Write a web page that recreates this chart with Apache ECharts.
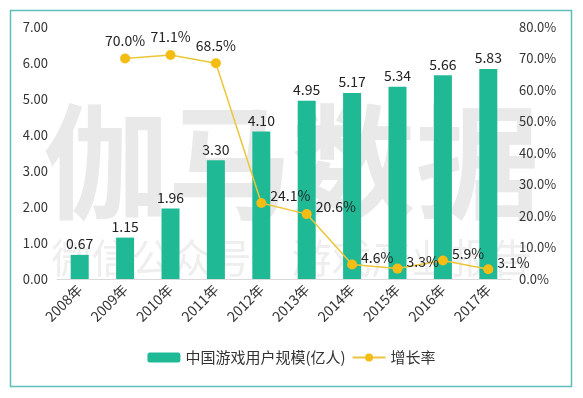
<!DOCTYPE html>
<html>
<head>
<meta charset="utf-8">
<script src="https://cdn.jsdelivr.net/npm/echarts@6/dist/echarts.min.js"></script>
<style>
  html, body { margin: 0; padding: 0; background: #fff; }
  #chart { width: 583px; height: 398px; }
</style>
</head>
<body>
<div id="chart"></div>
<script>
  // 2008-2017 中国游戏用户规模与增长率
  var years = ['2008年', '2009年', '2010年', '2011年', '2012年', '2013年', '2014年', '2015年', '2016年', '2017年'];
  var userScale = [0.67, 1.15, 1.96, 3.30, 4.10, 4.95, 5.17, 5.34, 5.66, 5.83];
  var growthRate = [null, 70.0, 71.1, 68.5, 24.1, 20.6, 4.6, 3.3, 5.9, 3.1];

  var fontFamily = '"Microsoft YaHei", "Noto Sans CJK SC", sans-serif';

  var lineData = growthRate.map(function (v, i) {
    var above = i <= 3;
    return {
      value: v,
      label: above
        ? { position: 'top', distance: 6 }
        : { position: 'right', distance: 4, offset: [0, -7] }
    };
  });

  var chart = echarts.init(document.getElementById('chart'));
  chart.setOption({
    backgroundColor: '#fff',
    textStyle: { fontFamily: fontFamily },
    graphic: [
      {
        type: 'text', z: -10, left: 'center', top: 100,
        style: { text: '伽马数据', fontSize: 124, fontWeight: 'bold', fill: '#e9e9e9', fontFamily: fontFamily }
      },
      {
        type: 'text', z: -10, left: 'center', top: 238,
        style: { text: '微信公众号：游戏产业报告', fontSize: 40, fill: '#eeeeee', fontFamily: fontFamily }
      },
      {
        type: 'rect', z: 100, silent: true,
        shape: { x: 10.5, y: 10.5, width: 561, height: 376 },
        style: { fill: 'none', stroke: '#5dbfb8', lineWidth: 1.5 }
      }
    ],
    grid: { left: 57, right: 72, top: 27, bottom: 119 },
    legend: {
      bottom: 28, left: 'center',
      itemWidth: 33, itemHeight: 10, itemGap: 6,
      textStyle: { fontSize: 15, color: '#333' },
      data: ['中国游戏用户规模(亿人)', '增长率']
    },
    xAxis: {
      type: 'category',
      data: years,
      axisTick: { show: false },
      axisLine: { lineStyle: { color: '#d9d9d9' } },
      axisLabel: { rotate: 45, fontSize: 14, color: '#333', margin: 8, interval: 0 }
    },
    yAxis: [
      {
        type: 'value', min: 0, max: 7, interval: 1,
        splitLine: { show: false },
        axisLine: { show: false }, axisTick: { show: false },
        axisLabel: { fontSize: 13, color: '#333', margin: 9, formatter: function (v) { return v.toFixed(2); } }
      },
      {
        type: 'value', min: 0, max: 80, interval: 10,
        splitLine: { show: false },
        axisLine: { show: false }, axisTick: { show: false },
        axisLabel: { fontSize: 13, color: '#333', margin: 8, formatter: function (v) { return v.toFixed(1) + '%'; } }
      }
    ],
    series: [
      {
        name: '中国游戏用户规模(亿人)',
        type: 'bar',
        barWidth: 18,
        itemStyle: { color: '#1fb996' },
        label: {
          show: true, position: 'top', distance: 4, fontSize: 14, color: '#222',
          formatter: function (p) { return p.value.toFixed(2); }
        },
        data: userScale
      },
      {
        name: '增长率',
        type: 'line',
        yAxisIndex: 1,
        symbol: 'circle',
        symbolSize: 10,
        lineStyle: { color: '#ecc63a', width: 1.5 },
        itemStyle: { color: '#f4bd14' },
        label: {
          show: true, fontSize: 14, color: '#222',
          formatter: function (p) { return p.value.toFixed(1) + '%'; }
        },
        data: lineData
      }
    ]
  });
</script>
</body>
</html>
